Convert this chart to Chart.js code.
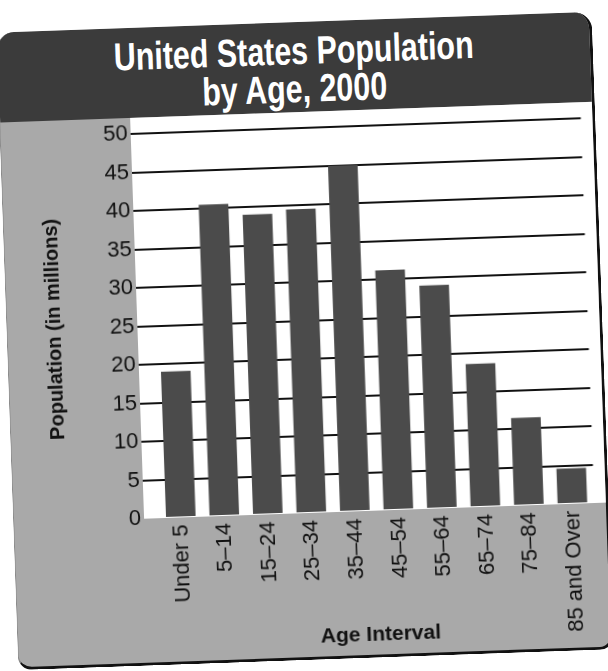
<!DOCTYPE html>
<html lang="en">
<head>
<meta charset="UTF-8">
<title>United States Population by Age, 2000</title>
<script src="https://cdn.jsdelivr.net/npm/chart.js"></script>
<style>
*{margin:0;padding:0;box-sizing:border-box;}
body{background:#fff;width:608px;height:671px;overflow:hidden;position:relative;}
.card{
position:absolute;left:7px;top:22px;width:596px;height:638px;
background:#a9a9a9;
border-right:3px solid #111;border-bottom:3px solid #111;border-left:1px solid #8a8a8a;
border-radius:18px 18px 14px 14px;
overflow:hidden;
transform:rotate(-2deg);
}
.title{
height:90px;background:#3b3b3b;color:#fff;text-align:center;
font-family:'Liberation Sans',Arial,sans-serif;font-weight:bold;font-size:39px;line-height:38px;
padding-top:10px;
}
.title span{display:inline-block;transform:scaleX(0.78);white-space:nowrap;}
.plot{position:relative;height:545px;}
</style>
</head>
<body>

<div class="card">
<div class="title"><span>United States Population</span><br><span>by Age, 2000</span></div>
<div class="plot"><canvas id="popChart"></canvas></div>
</div>

<script>
const ageGroups = ["Under 5","5\u201314","15\u201324","25\u201334","35\u201344","45\u201354","55\u201364","65\u201374","75\u201384","85 and Over"];
const population = [19, 40.5, 39, 39.5, 45, 31.2, 29, 18.6, 11.4, 4.6];
const yTicks = [0,5,10,15,20,25,30,35,40,45,50];

const FONT = "'Liberation Sans', Arial, sans-serif";

// white plot panel behind the bars, reaching a bit left of the first bar
const plotBg = {
  id:'plotBg',
  beforeDraw(chart){
    const {ctx, chartArea:a} = chart;
    ctx.save();
    ctx.fillStyle = '#ffffff';
    ctx.fillRect(a.left - 15, 0, chart.width - (a.left - 15), a.bottom);
    ctx.restore();
  }
};

new Chart(document.getElementById('popChart'), {
  type:'bar',
  data:{
    labels:ageGroups,
    datasets:[{
      data:population,
      backgroundColor:'#4b4b4b',
      borderWidth:0,
      barPercentage:0.68,
      categoryPercentage:1
    }]
  },
  options:{
    responsive:true,
    maintainAspectRatio:false,
    animation:false,
    layout:{padding:{top:9,right:0,bottom:0,left:0}},
    plugins:{legend:{display:false},tooltip:{enabled:false}},
    scales:{
      x:{
        grid:{display:false,drawTicks:false},
        border:{display:false},
        afterFit(axis){ axis.height = 144; },
        ticks:{
          color:'#111',
          font:{family:FONT,size:22},
          minRotation:90,maxRotation:90,
          padding:7,
          autoSkip:false
        },
        title:{
          display:true,
          text:'Age Interval',
          color:'#111',
          font:{family:FONT,size:21,weight:'bold'},
          padding:{top:0,bottom:7}
        }
      },
      y:{
        min:0,max:50,
        afterFit(axis){ axis.width = 145; },
        afterBuildTicks(axis){ axis.ticks = yTicks.map(v => ({value:v})); },
        border:{display:false},
        grid:{
          color:ctx => ctx.tick && ctx.tick.value === 0 ? 'rgba(0,0,0,0)' : '#111',
          lineWidth:2,
          drawTicks:true,
          tickLength:15
        },
        ticks:{
          color:'#111',
          font:{family:FONT,size:22},
          padding:3
        },
        title:{
          display:true,
          text:'Population (in millions)',
          color:'#111',
          font:{family:FONT,size:20,weight:'bold'},
          padding:{top:35,bottom:0}
        }
      }
    }
  },
  plugins:[plotBg]
});
</script>

</body>
</html>
